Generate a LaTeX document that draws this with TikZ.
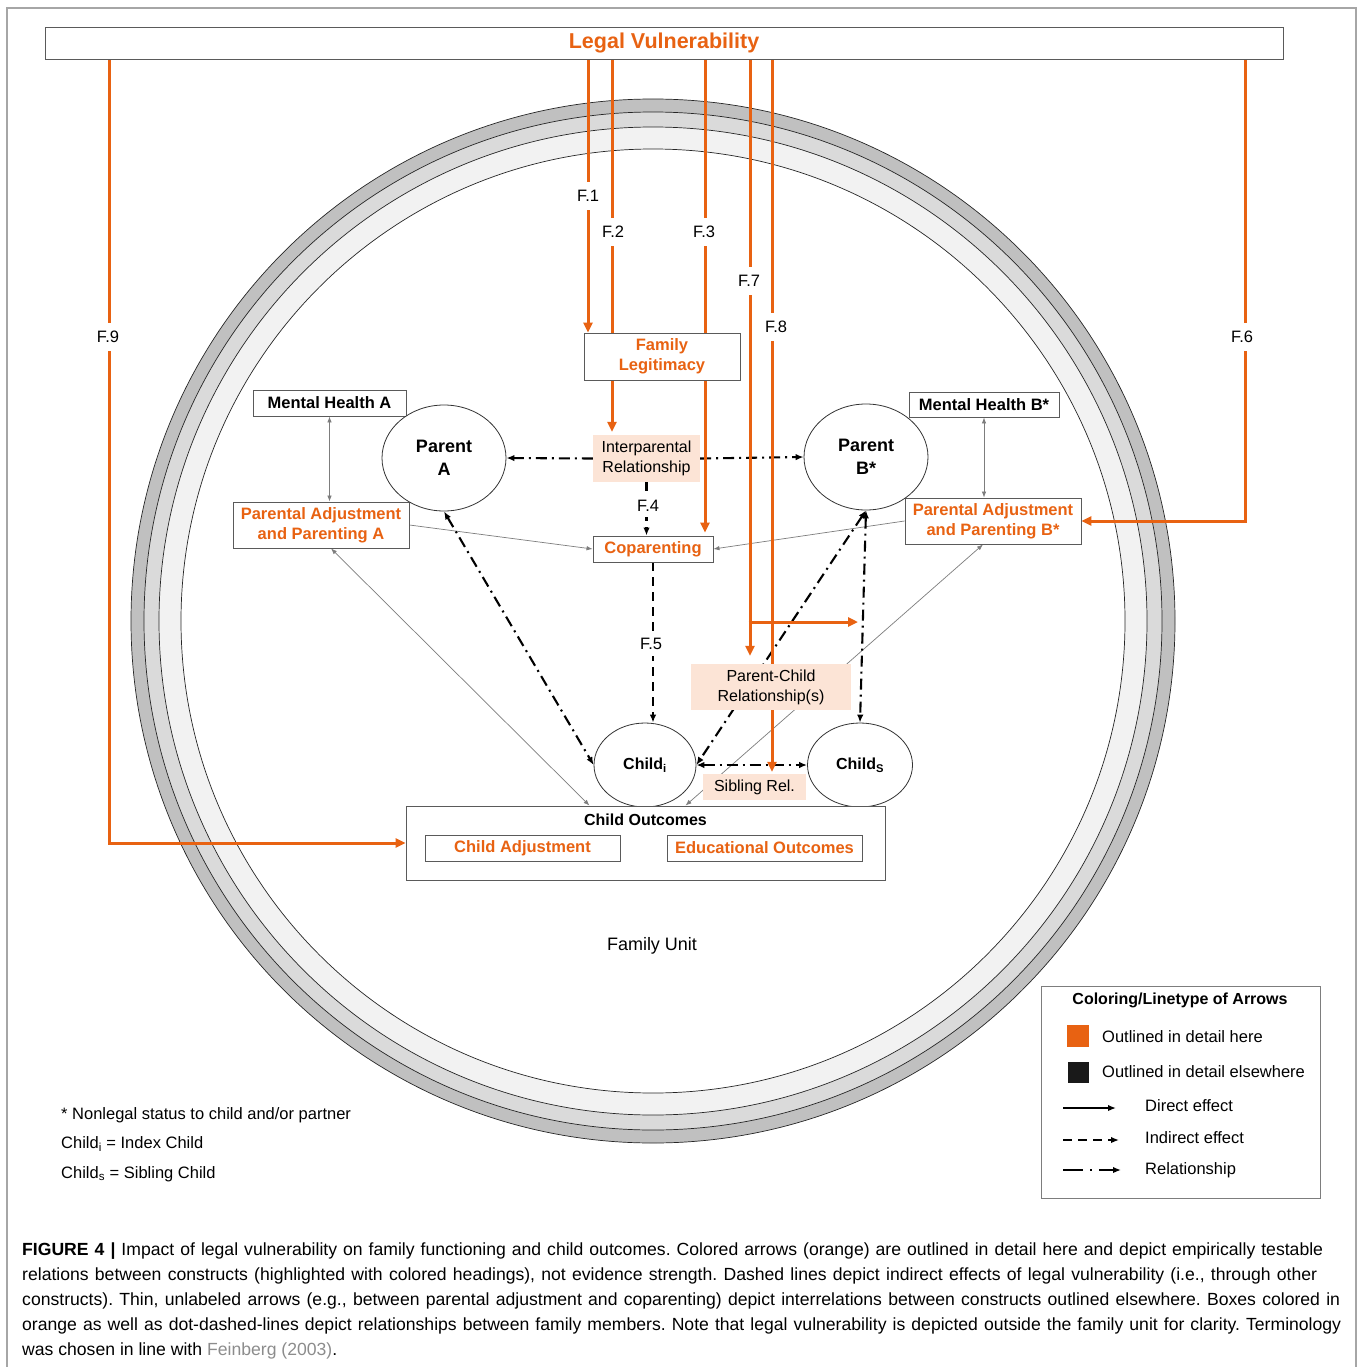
\documentclass[tikz,border=0pt]{standalone}
\usepackage{fontspec}
\setmainfont{Liberation Sans}
\newfontfamily\capfont{Liberation Sans}
\usetikzlibrary{arrows.meta,shapes.geometric,calc}
\definecolor{lvorange}{RGB}{232,98,18}
\definecolor{peach}{RGB}{252,228,214}
\definecolor{boxgray}{RGB}{90,90,90}
\definecolor{ringA}{RGB}{192,192,192}
\definecolor{ringB}{RGB}{218,218,218}
\definecolor{ringC}{RGB}{242,242,242}
\definecolor{thingray}{RGB}{125,125,125}
\definecolor{citegray}{RGB}{140,140,140}
\pgfdeclarelayer{rings}
\pgfdeclarelayer{lines}
\pgfsetlayers{rings,lines,main}
\frenchspacing
\begin{document}
\begin{tikzpicture}[x=1pt,y=-1pt,
  >={Latex[length=8pt,width=6.5pt]},
  box/.style={draw=boxgray,line width=0.9pt,fill=white,inner sep=0pt,align=center,font=\bfseries\fontsize{16.5}{20}\selectfont},
  obox/.style={box,text=lvorange},
  relbox/.style={fill=peach,inner sep=0pt,align=center,font=\fontsize{16}{20}\selectfont},
  person/.style={ellipse,draw=black!80,line width=0.8pt,fill=white,inner sep=0pt,align=center},
  reldash/.style={line width=2.1pt,dash pattern=on 11pt off 5pt on 2pt off 5pt},
  inddash/.style={line width=2.1pt,dash pattern=on 9pt off 6pt},
  thinarr/.style={draw=thingray,line width=0.7pt,>={Latex[length=6pt,width=4.5pt]}},
  oarr/.style={draw=lvorange,line width=3pt,-{Triangle[length=10pt,width=9pt]}},
  flab/.style={fill=white,inner xsep=2pt,inner ysep=8pt,font=\fontsize{16.5}{18}\selectfont},
  txt/.style={inner sep=0pt,font=\fontsize{16.5}{20}\selectfont},
  capline/.style={inner sep=0pt,anchor=base west,font=\capfont\fontsize{17.6}{20}\selectfont},
  ringc/.style={draw=black!85,line width=0.7pt},
]
\useasboundingbox (0,0) rectangle (1358,1367);
% outer frame
\draw[gray!70,line width=1.2pt] (7,1367) -- (7,8) -- (1356,8) -- (1356,1367);

% rings
\begin{pgfonlayer}{rings}
\filldraw[ringc,fill=ringA] (653,621) circle[radius=522pt];
\filldraw[ringc,fill=ringB] (653,621) circle[radius=509pt];
\filldraw[ringc,fill=ringC] (653,621) circle[radius=494pt];
\filldraw[ringc,fill=white] (653,621) circle[radius=472pt];
\end{pgfonlayer}

% top box
\node[draw=boxgray,line width=0.9pt,fill=white,minimum width=1238pt,minimum height=32pt,inner sep=0pt,
      text=lvorange,font=\bfseries\fontsize{21.5}{24}\selectfont] (lv) at (664,43) {Legal Vulnerability};

% nodes
\node[obox,minimum width=156pt,minimum height=47pt] (fl) at (662,356.5) {Family\\Legitimacy};
\node[box,minimum width=153pt,minimum height=26pt] (mha) at (329.5,403) {Mental Health A};
\node[box,minimum width=150pt,minimum height=25pt] (mhb) at (984,404.5) {Mental Health B*};
\node[obox,minimum width=176pt,minimum height=46pt] (paa) at (321,525) {Parental Adjustment\\and Parenting A};
\node[obox,minimum width=176pt,minimum height=46pt] (pab) at (993,521) {Parental Adjustment\\and Parenting B*};
\node[relbox,minimum width=107pt,minimum height=47pt] (ir) at (646.5,458.5) {Interparental\\Relationship};
\node[obox,minimum width=120pt,minimum height=26pt] (cp) at (653,549) {Coparenting};
\node[person,minimum width=124pt,minimum height=106pt,font=\bfseries\fontsize{18}{23}\selectfont] (pa) at (444,458) {Parent\\A};
\node[person,minimum width=124pt,minimum height=106pt,font=\bfseries\fontsize{18}{23}\selectfont] (pb) at (866,457) {Parent\\B*};
\node[relbox,minimum width=160pt,minimum height=46pt] (pc) at (771,687) {Parent-Child\\Relationship(s)};
\node[person,minimum width=102pt,minimum height=84pt,font=\bfseries\fontsize{16}{20}\selectfont] (ci) at (645,765) {Child\textsubscript{i}};
\node[person,minimum width=105pt,minimum height=84pt,font=\bfseries\fontsize{16}{20}\selectfont] (cs) at (860,765) {Child\textsubscript{S}};
\node[relbox,minimum width=103pt,minimum height=26pt] (sr) at (754.5,787) {Sibling Rel.};
\node[draw=boxgray,line width=0.9pt,fill=white,minimum width=479pt,minimum height=74pt,inner sep=0pt] (co) at (645.5,843) {};
\node[txt,font=\bfseries\fontsize{16}{20}\selectfont] (cot) at (645.5,820) {Child Outcomes};
\node[obox,minimum width=195pt,minimum height=26pt] (cadj) at (522.5,848) {Child Adjustment};
\node[obox,minimum width=195pt,minimum height=26pt] (edu) at (764.5,848) {Educational Outcomes};

\node[txt,font=\fontsize{18}{20}\selectfont] (fu) at (652,946) {Family Unit};

% connectors
\begin{pgfonlayer}{lines}
% thin gray
\draw[thinarr,<->] (mha.south) -- (mha.south |- paa.north);
\draw[thinarr,<->] (mhb.south) -- (mhb.south |- pab.north);
\draw[thinarr,->] (paa.east) -- (cp.west);
\draw[thinarr,->] (pab.west) -- (cp.east);
\draw[thinarr,<->] ($(paa.south)+(10,0)$) -- ($(co.north)+(-56,0)$);
\draw[thinarr,<->] ($(pab.south)+(-10,0)$) -- ($(co.north)+(40,0)$);
% black relationships
\draw[reldash,->] (ir.west) -- (pa.east);
\draw[reldash,->] (ir.east) -- (pb.west);
\draw[reldash,<->] (pa.south) -- (ci.west);
\draw[reldash,<->] (pb.south) -- (ci.east);
\draw[reldash,<->] (pb.south) -- (cs.north);
\draw[reldash,<->] (ci.east) -- (cs.west);
% indirect
\draw[inddash,->] (ir.south) -- (ir.south |- cp.north);
\draw[inddash,->] (cp.south) -- (cp.south |- ci.north);
% orange
\draw[oarr] (109,0 |- lv.south) -- (109,0 |- co.west) -- (co.west);
\draw[oarr] (588,0 |- lv.south) -- (588,0 |- fl.north);
\draw[oarr,shorten >=3pt] (612,0 |- lv.south) -- (612,0 |- ir.north);
\draw[oarr,shorten >=3pt] (705,0 |- lv.south) -- (705,0 |- cp.north);
\draw[oarr,shorten >=8pt] (750,0 |- lv.south) -- (750,0 |- pc.north);
\coordinate (f7b) at (748.5,622);
\coordinate (f7e) at (858,622);
\draw[oarr] (f7b) -- (f7e);
\draw[oarr,shorten >=2pt] (772,0 |- lv.south) -- (772,0 |- sr.north);
\draw[oarr] (1245,0 |- lv.south) -- (1245,0 |- pab.east) -- (pab.east);
\end{pgfonlayer}

% labels on connectors
\node[flab] (l9) at (108,337) {F.9};
\node[flab] (l1) at (588,196) {F.1};
\node[flab] (l2) at (613,232) {F.2};
\node[flab] (l3) at (704,232) {F.3};
\node[flab] (l7) at (749,281) {F.7};
\node[flab] (l8) at (776,327) {F.8};
\node[flab] (l6) at (1242,337) {F.6};
\node[flab,inner ysep=5pt] (l4) at (648,506) {F.4};
\node[flab,inner ysep=6pt] (l5) at (651,644) {F.5};

% notes
\node[txt,anchor=west] (n1) at (61,1115) {* Nonlegal status to child and/or partner};
\node[txt,anchor=west] (n2) at (61,1144) {Child\textsubscript{i} = Index Child};
\node[txt,anchor=west] (n3) at (61,1174) {Child\textsubscript{s} = Sibling Child};

% legend
\node[draw=thingray,line width=0.9pt,minimum width=279pt,minimum height=212pt,inner sep=0pt] (leg) at (1180.5,1092) {};
\node[txt,font=\bfseries\fontsize{16}{20}\selectfont] (legt) at (1180,1000) {Coloring/Linetype of Arrows};
\node[fill=lvorange,minimum size=22pt,inner sep=0pt] (sq1) at (1078,1036) {};
\node[fill=black!90,minimum size=21pt,inner sep=0pt] (sq2) at (1078,1072) {};
\node[txt,anchor=west] (lt1) at (1102,1037) {Outlined in detail here};
\node[txt,anchor=west] (lt2) at (1102,1072) {Outlined in detail elsewhere};
\node[txt,anchor=west] (lt3) at (1145,1106) {Direct effect};
\node[txt,anchor=west] (lt4) at (1145,1138) {Indirect effect};
\node[txt,anchor=west] (lt5) at (1145,1170) {Relationship};
\coordinate (d1) at (1063,1108); \coordinate (d2) at (1116,1108);
\coordinate (i1) at (1063,1140); \coordinate (i2) at (1119,1140);
\coordinate (r1) at (1063,1170); \coordinate (r2) at (1121,1170);
\draw[line width=2pt,-{Latex[length=8pt,width=6.5pt]}] (d1) -- (d2);
\draw[line width=2pt,dash pattern=on 9pt off 6pt,-{Latex[length=8pt,width=6.5pt]}] (i1) -- (i2);
\draw[line width=2pt,dash pattern=on 20pt off 7pt on 2pt off 7pt,-{Latex[length=8pt,width=6.5pt]}] (r1) -- (r2);

% caption
\node[capline] (c1) at (22,1255) {\makebox[1301pt][s]{\textbf{FIGURE 4 |} Impact of legal vulnerability on family functioning and child outcomes. Colored arrows (orange) are outlined in detail here and depict empirically testable}};
\node[capline] (c2) at (22,1280) {\makebox[1295pt][s]{relations between constructs (highlighted with colored headings), not evidence strength. Dashed lines depict indirect effects of legal vulnerability (i.e., through other}};
\node[capline] (c3) at (22,1305) {\makebox[1318pt][s]{constructs). Thin, unlabeled arrows (e.g., between parental adjustment and coparenting) depict interrelations between constructs outlined elsewhere. Boxes colored in}};
\node[capline] (c4) at (22,1330) {\makebox[1319pt][s]{orange as well as dot-dashed-lines depict relationships between family members. Note that legal vulnerability is depicted outside the family unit for clarity. Terminology}};
\node[capline] (c5) at (22,1355) {was chosen in line with \textcolor{citegray}{Feinberg (2003)}.};
\end{tikzpicture}
\end{document}
